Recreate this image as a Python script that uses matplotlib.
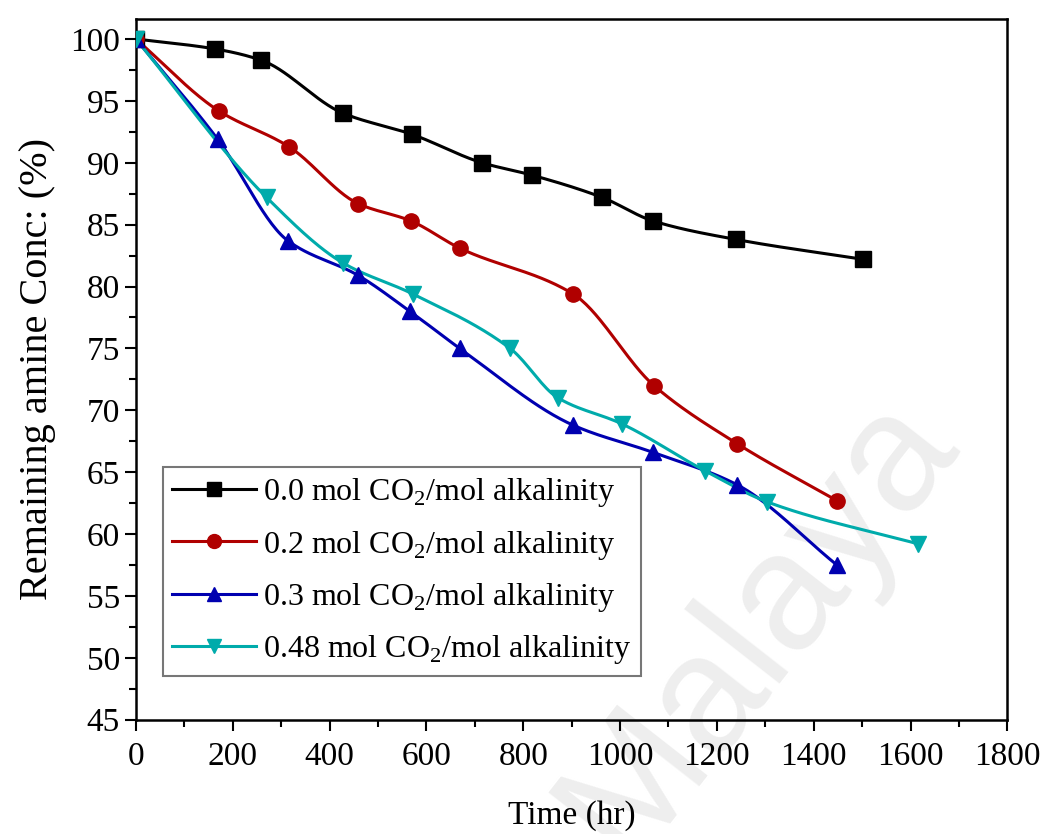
import numpy as np
import matplotlib
matplotlib.use("Agg")
import matplotlib.pyplot as plt
from matplotlib.ticker import MultipleLocator

plt.rcParams['font.family'] = ['Liberation Serif', 'DejaVu Serif']
plt.rcParams['mathtext.fontset'] = 'custom'
plt.rcParams['mathtext.rm'] = 'Liberation Serif'

# data
t_00 = [0, 163, 258, 428, 570, 715, 818, 963, 1068, 1240, 1502]
c_00 = [100, 99.2, 98.3, 94.0, 92.3, 90.0, 89.0, 87.2, 85.3, 83.8, 82.2]

t_02 = [0, 171, 316, 459, 568, 669, 903, 1070, 1242, 1448]
c_02 = [100, 94.2, 91.3, 86.7, 85.3, 83.1, 79.4, 72.0, 67.3, 62.7]

t_03 = [0, 169, 314, 459, 566, 669, 903, 1068, 1241, 1448]
c_03 = [100, 91.9, 83.7, 80.9, 78.0, 75.0, 68.8, 66.6, 64.0, 57.5]

t_048 = [0, 270, 428, 572, 773, 872, 1004, 1176, 1304, 1616]
c_048 = [100, 87.2, 81.9, 79.4, 75.0, 71.0, 68.9, 65.1, 62.6, 59.2]

labels = ["0.0 mol CO$_2$/mol alkalinity", "0.2 mol CO$_2$/mol alkalinity",
          "0.3 mol CO$_2$/mol alkalinity", "0.48 mol CO$_2$/mol alkalinity"]


def smooth(x, y, n=300):
    # monotone cubic (pchip) curve, only used to draw the connecting line
    x = np.asarray(x, float)
    y = np.asarray(y, float)
    h = np.diff(x)
    d = np.diff(y) / h
    m = np.zeros_like(y)
    for i in range(1, len(x) - 1):
        if d[i - 1] * d[i] > 0:
            w1 = 2 * h[i] + h[i - 1]
            w2 = h[i] + 2 * h[i - 1]
            m[i] = (w1 + w2) / (w1 / d[i - 1] + w2 / d[i])
    m[0] = d[0]
    m[-1] = d[-1]
    xs = np.linspace(x[0], x[-1], n)
    j = np.clip(np.searchsorted(x, xs) - 1, 0, len(x) - 2)
    s = (xs - x[j]) / h[j]
    h00 = 2 * s**3 - 3 * s**2 + 1
    h10 = s**3 - 2 * s**2 + s
    h01 = -2 * s**3 + 3 * s**2
    h11 = s**3 - s**2
    ys = h00 * y[j] + h10 * h[j] * m[j] + h01 * y[j + 1] + h11 * h[j] * m[j + 1]
    return xs, ys


fig = plt.figure(figsize=(10.45, 8.34), dpi=100)
ax = fig.add_axes([0.130, 0.137, 0.834, 0.840])

# watermark
ax.text(0.725, 0.25, "Malaya", fontsize=120, color='#eeeeee', rotation=52,
        ha='center', va='center', family='Liberation Sans',
        transform=fig.transFigure, clip_on=False, zorder=0.5)

series = [(t_00, c_00, 'black', 's'),
          (t_02, c_02, '#b00000', 'o'),
          (t_03, c_03, '#0000b0', '^'),
          (t_048, c_048, '#00abab', 'v')]

for (t, c, col, mk), lab in zip(series, labels):
    xs, ys = smooth(t, c)
    ax.plot(xs, ys, color=col, lw=2.2, zorder=3)
    ax.plot(t, c, ls='none', marker=mk, color=col, ms=11, zorder=4)
    ax.plot([], [], color=col, lw=2.2, marker=mk, ms=10, label=lab)

ax.set_xlim(0, 1800)
ax.set_ylim(45, 101.6)
ax.xaxis.set_major_locator(MultipleLocator(200))
ax.xaxis.set_minor_locator(MultipleLocator(100))
ax.yaxis.set_major_locator(MultipleLocator(5))
ax.yaxis.set_minor_locator(MultipleLocator(2.5))
ax.tick_params(which='major', direction='out', length=8, width=1.5, labelsize=24)
ax.tick_params(which='minor', direction='out', length=5, width=1.5)
ax.tick_params(axis='x', pad=8)
for s in ax.spines.values():
    s.set_linewidth(1.8)

ax.set_xlabel("Time (hr)", fontsize=24, labelpad=20)
ax.set_ylabel("Remaining amine Conc: (%)", fontsize=29, labelpad=10)

leg = ax.legend(loc='upper left', bbox_to_anchor=(0.031, 0.361), fontsize=23,
                handlelength=2.6, handletextpad=0.25, borderpad=0.3,
                labelspacing=0.6, fancybox=False, framealpha=1, borderaxespad=0)
leg.get_frame().set_edgecolor('#777777')
leg.get_frame().set_linewidth(1.5)

fig.savefig("out.png", dpi=100)
